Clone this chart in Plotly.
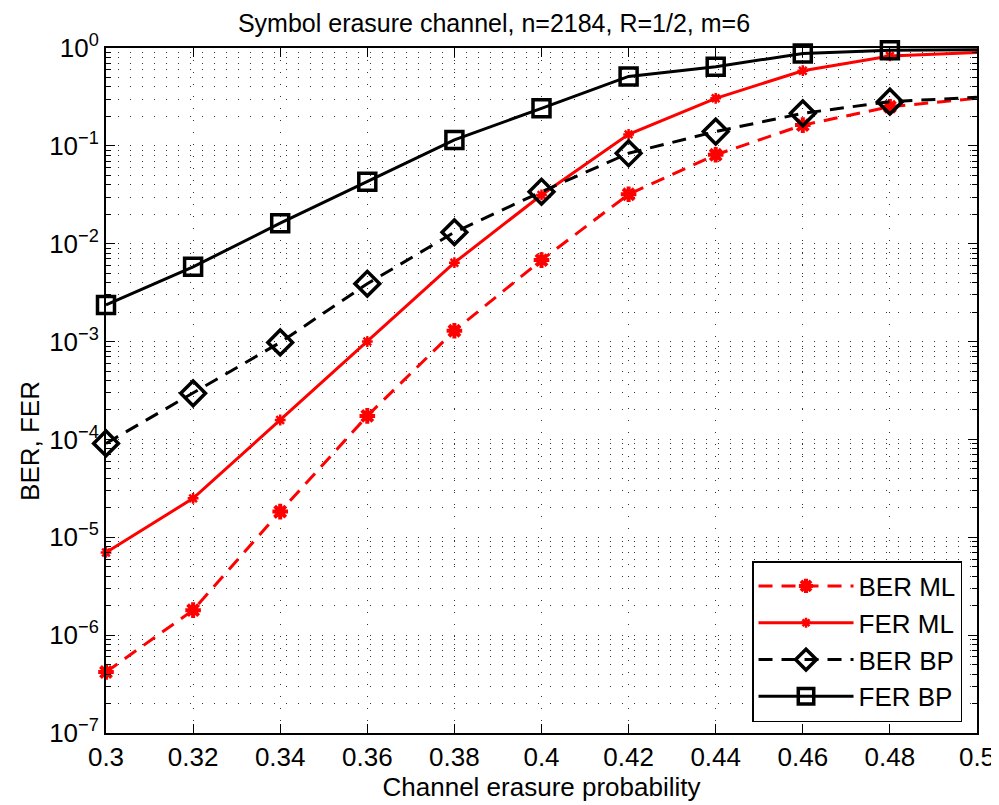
import plotly.graph_objects as go

erasure_prob = [0.30, 0.32, 0.34, 0.36, 0.38, 0.40, 0.42, 0.44, 0.46, 0.48, 0.50]
ber_ml = [4.2e-7, 1.8e-6, 1.83e-5, 1.74e-4, 1.29e-3, 6.8e-3, 3.2e-2, 8.1e-2, 0.163, 0.251, 0.306]
fer_ml = [7.0e-6, 2.5e-5, 1.58e-4, 1.0e-3, 6.4e-3, 3.15e-2, 0.131, 0.306, 0.586, 0.83, 0.90]
ber_bp = [9.1e-5, 2.96e-4, 9.8e-4, 3.9e-3, 1.31e-2, 3.4e-2, 8.4e-2, 0.14, 0.215, 0.283, 0.313]
fer_bp = [2.37e-3, 5.8e-3, 1.62e-2, 4.3e-2, 0.115, 0.242, 0.512, 0.644, 0.88, 0.95, 0.96]

x_ticks = [0.30, 0.32, 0.34, 0.36, 0.38, 0.40, 0.42, 0.44, 0.46, 0.48, 0.50]
x_ticktext = ["0.3", "0.32", "0.34", "0.36", "0.38", "0.4", "0.42", "0.44", "0.46", "0.48", "0.5"]
y_ticks = [1e-7, 1e-6, 1e-5, 1e-4, 1e-3, 1e-2, 1e-1, 1e0]
y_ticktext = ["10<sup>\u22127</sup>", "10<sup>\u22126</sup>", "10<sup>\u22125</sup>", "10<sup>\u22124</sup>",
              "10<sup>\u22123</sup>", "10<sup>\u22122</sup>", "10<sup>\u22121</sup>", "10<sup>0</sup>"]

FONT = "Liberation Sans, Arial, sans-serif"
n = len(erasure_prob)

fig = go.Figure()
fig.add_trace(go.Scatter(
    x=erasure_prob, y=ber_ml, name="BER ML", mode="lines+markers",
    line=dict(color="#ff0000", width=3, dash="14px,9px"),
    marker=dict(symbol="asterisk-open", size=[13] * (n - 1) + [0], color="#ff0000", opacity=1,
                line=dict(color="#ff0000", width=4)),
    cliponaxis=False))
fig.add_trace(go.Scatter(
    x=erasure_prob, y=fer_ml, name="FER ML", mode="lines+markers",
    line=dict(color="#ff0000", width=3),
    marker=dict(symbol="asterisk-open", size=[9] * (n - 1) + [0], color="#ff0000", opacity=1,
                line=dict(color="#ff0000", width=2.5)),
    cliponaxis=False))
fig.add_trace(go.Scatter(
    x=erasure_prob, y=ber_bp, name="BER BP", mode="lines+markers",
    line=dict(color="#000000", width=3, dash="14px,9px"),
    marker=dict(symbol="diamond-open", size=[19] * (n - 1) + [0], color="#000000", opacity=1,
                line=dict(color="#000000", width=3.5)),
    cliponaxis=False))
fig.add_trace(go.Scatter(
    x=erasure_prob, y=fer_bp, name="FER BP", mode="lines+markers",
    line=dict(color="#000000", width=3),
    marker=dict(symbol="square-open", size=[17] * (n - 1) + [0], color="#000000", opacity=1,
                line=dict(color="#000000", width=3.5)),
    cliponaxis=False))

grid_dash = "1px,11px"
grid_col = "#333333"
fig.update_layout(
    width=991, height=797,
    margin=dict(l=98, r=22, t=40, b=72),
    paper_bgcolor="white", plot_bgcolor="white",
    font=dict(family=FONT, size=26, color="black"),
    title=dict(text="Symbol erasure channel, n=2184, R=1/2, m=6",
               xref="container", x=0.4904, xanchor="center",
               yref="container", y=0.992, yanchor="top", pad=dict(t=0, b=0),
               font=dict(size=25)),
    showlegend=True,
    legend=dict(x=0.9828, xanchor="right", y=0.016, yanchor="bottom",
                bgcolor="white", bordercolor="black", borderwidth=1.5,
                font=dict(size=26), itemwidth=95, tracegroupgap=0),
    xaxis=dict(range=[0.3, 0.5], tickvals=x_ticks, ticktext=x_ticktext, automargin=False,
               showline=True, linecolor="black", linewidth=2, mirror="allticks",
               ticks="inside", ticklen=9, tickwidth=1, tickcolor="black",
               tickfont=dict(size=26),
               showgrid=True, gridcolor=grid_col, gridwidth=1, griddash=grid_dash,
               zeroline=False,
               title=dict(text="Channel erasure probability", standoff=6, font=dict(size=26))),
    yaxis=dict(type="log", range=[-7, 0], tickvals=y_ticks, ticktext=y_ticktext, automargin=False,
               showline=True, linecolor="black", linewidth=2, mirror="allticks",
               ticks="inside", ticklen=9, tickwidth=1, tickcolor="black",
               tickfont=dict(size=26),
               showgrid=True, gridcolor=grid_col, gridwidth=1, griddash=grid_dash,
               zeroline=False,
               minor=dict(dtick="D1", ticks="inside", ticklen=5, tickcolor="black",
                          showgrid=True, gridcolor=grid_col, gridwidth=1, griddash=grid_dash)),
    annotations=[dict(text="BER, FER", xref="paper", yref="paper", x=-0.0873, y=0.4263,
                      xanchor="center", yanchor="middle", textangle=-90, showarrow=False,
                      font=dict(size=26))],
)

fig.write_html("out.html")
